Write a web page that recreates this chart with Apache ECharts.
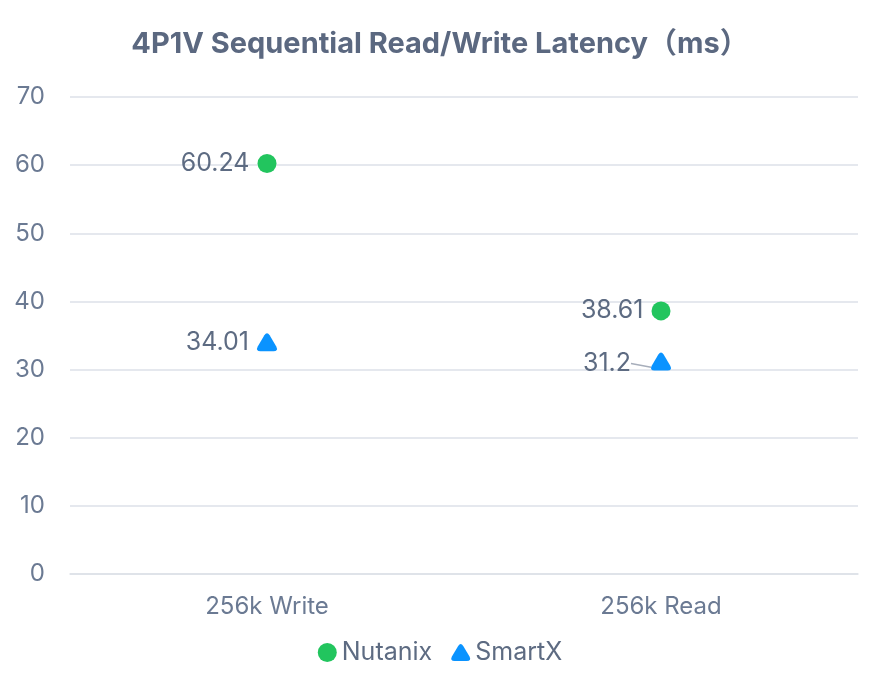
<!DOCTYPE html>
<html>
<head>
<meta charset="utf-8">
<script src="https://cdn.jsdelivr.net/npm/echarts@6/dist/echarts.min.js"></script>
<style>
  html, body { margin: 0; padding: 0; background: #fff; }
  #chart { width: 880px; height: 690px; }
</style>
</head>
<body>
<div id="chart"></div>
<script>
// 数据
var categories = ['256k Write', '256k Read']
var nutanixValues = [60.24, 38.61]
var smartxValues = [34.01, 31.2]
var seriesNames = ['Nutanix', 'SmartX']

var FONT = 'Inter, "Noto Sans", "Noto Sans CJK SC", sans-serif'
var TEXT_COLOR = '#5d6b82'
// 圆角三角形
var roundTriangle = 'path://M7.4,2.2 Q10,-1.8 12.6,2.2 L19.1,13.2 Q21.4,17.8 16.4,17.8 L3.6,17.8 Q-1.4,17.8 0.9,13.2 Z'

function makeSeries(name, values, symbol, color, shiftedIndex) {
  var data = values.map(function(v, i) {
    if (i === shiftedIndex) {
      // 这个标签被推开了，带一条短引线
      return { value: v, labelLine: { show: true } }
    }
    return v
  })
  return {
    name: name,
    type: 'scatter',
    data: data,
    symbol: symbol,
    symbolSize: symbol === 'circle' ? 19 : [20, 18],
    itemStyle: { color: color, opacity: 1 },
    label: {
      show: true,
      position: 'left',
      distance: 8,
      color: TEXT_COLOR,
      fontSize: 25,
      fontFamily: FONT
    },
    labelLine: {
      show: false,
      lineStyle: { color: '#a7aebb', width: 1.5 }
    },
    labelLayout: function(params) {
      if (params.dataIndex === shiftedIndex) {
        return { dx: -12, dy: 2 }
      }
      return {}
    }
  }
}

var chart = echarts.init(document.getElementById('chart'))
chart.setOption({
  backgroundColor: '#fff',
  title: {
    text: '4P1V Sequential Read/Write Latency（ms）',
    left: 'center',
    top: 25,
    textStyle: {
      color: '#5b6880',
      fontSize: 29,
      fontWeight: 'bold',
      fontFamily: FONT
    }
  },
  legend: {
    bottom: 20,
    left: 'center',
    itemWidth: 19,
    itemHeight: 19,
    itemGap: 19,
    data: [
      { name: seriesNames[0], icon: 'circle' },
      { name: seriesNames[1], icon: roundTriangle }
    ],
    textStyle: { color: TEXT_COLOR, fontSize: 25, fontFamily: FONT }
  },
  grid: { left: 70, right: 22, top: 97, bottom: 116 },
  xAxis: {
    type: 'category',
    data: categories,
    boundaryGap: true,
    axisLine: { show: true, lineStyle: { color: '#dde1e8', width: 1.5 } },
    axisTick: { show: false },
    axisLabel: { color: '#6b7a93', fontSize: 24, margin: 21, fontFamily: FONT }
  },
  yAxis: {
    type: 'value',
    min: 0,
    max: 70,
    interval: 10,
    axisLine: { show: false },
    axisTick: { show: false },
    axisLabel: { color: '#6b7a93', fontSize: 24, margin: 25, fontFamily: FONT },
    splitLine: { lineStyle: { color: '#dde1e8', width: 1.5 } }
  },
  series: [
    makeSeries(seriesNames[0], nutanixValues, 'circle', '#22c55e', -1),
    makeSeries(seriesNames[1], smartxValues, roundTriangle, '#0a93ff', 1)
  ]
})
</script>
</body>
</html>
